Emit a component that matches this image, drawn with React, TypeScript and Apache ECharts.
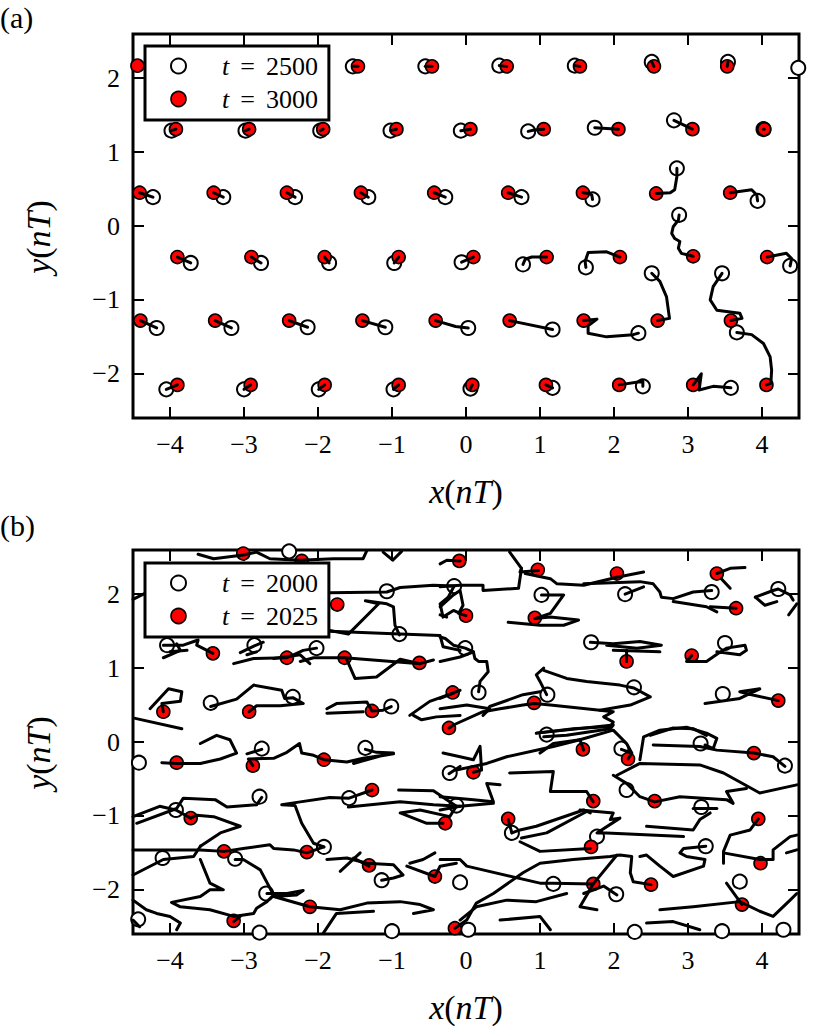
import React, { useEffect, useRef } from 'react';
import * as echarts from 'echarts';

const FONT = '"Liberation Serif", "Times New Roman", serif';

// axes
const xTicks = [-4, -3, -2, -1, 0, 1, 2, 3, 4];
const yTicks = [-2, -1, 0, 1, 2];
const xMin = -4.5;
const xMax = 4.5;
const yMin = -2.598;
const yMax = 2.598;

// legend names
const aNames = ['t = 2500', 't = 3000'];
const bNames = ['t = 2000', 't = 2025'];

// ---------- panel (a) ----------
// positions at t = 2500 (open circles)
const aOpen: number[][] = [
  [4.49, 2.14], [-3.5, 2.16], [-2.5, 2.16], [-1.53, 2.16], [-0.55, 2.16], [0.45, 2.17], [1.47, 2.17], [2.51, 2.22], [3.54, 2.22],
  [-3.98, 1.29], [-2.98, 1.29], [-1.97, 1.29], [-1.02, 1.29], [-0.07, 1.29], [0.84, 1.28], [1.74, 1.33], [2.81, 1.43], [4.02, 1.31],
  [-4.23, 0.39], [-3.28, 0.39], [-2.31, 0.39], [-1.32, 0.39], [-0.28, 0.39], [0.75, 0.39], [1.71, 0.36], [2.85, 0.78], [3.94, 0.34],
  [-3.72, -0.5], [-2.77, -0.5], [-1.85, -0.5], [-0.97, -0.5], [-0.06, -0.49], [0.77, -0.52], [1.62, -0.56], [2.88, 0.15], [4.38, -0.54],
  [-4.18, -1.38], [-3.17, -1.38], [-2.14, -1.37], [-1.09, -1.37], [0.03, -1.38], [1.17, -1.4], [2.33, -1.45], [2.51, -0.64], [3.46, -0.64], [3.66, -1.44],
  [-4.05, -2.21], [-3.0, -2.21], [-1.99, -2.21], [-0.98, -2.21], [0.06, -2.2], [1.17, -2.19], [2.39, -2.17], [3.58, -2.19],
];
// positions at t = 3000 (red dots), same order
const aRed: number[][] = [
  [-4.44, 2.17], [-3.45, 2.17], [-2.45, 2.17], [-1.46, 2.16], [-0.46, 2.16], [0.55, 2.16], [1.54, 2.16], [2.54, 2.16], [3.53, 2.16],
  [-3.92, 1.31], [-2.93, 1.31], [-1.93, 1.31], [-0.94, 1.31], [0.06, 1.31], [1.05, 1.31], [2.06, 1.31], [3.06, 1.31], [4.03, 1.31],
  [-4.41, 0.45], [-3.41, 0.45], [-2.42, 0.45], [-1.42, 0.45], [-0.43, 0.45], [0.57, 0.45], [1.58, 0.45], [2.57, 0.44], [3.57, 0.45],
  [-3.9, -0.42], [-2.9, -0.42], [-1.91, -0.42], [-0.91, -0.42], [0.1, -0.42], [1.09, -0.42], [2.08, -0.42], [3.07, -0.41], [4.07, -0.42],
  [-4.4, -1.28], [-3.39, -1.28], [-2.39, -1.28], [-1.4, -1.28], [-0.41, -1.28], [0.59, -1.28], [1.59, -1.28], [2.59, -1.28], [3.58, -1.28], [4.06, -2.15],
  [-3.9, -2.15], [-2.91, -2.15], [-1.91, -2.15], [-0.91, -2.15], [0.085, -2.15], [1.08, -2.15], [2.07, -2.15], [3.07, -2.15],
];
// intermediate trajectory points (null = path wraps through the boundary)
const aMid: (number[][] | null)[] = [
  null, [], [], [], [], [], [], [], [],
  [], [], [], [], [], [[0.92, 1.3]], [], [], [],
  [], [], [], [], [], [], [[1.7, 0.42], [1.66, 0.44]], [[2.85, 0.67], [2.82, 0.49], [2.76, 0.45]], [[3.93, 0.42], [3.86, 0.49]],
  [], [], [], [], [], [[0.8, -0.45], [0.89, -0.42]], [[1.61, -0.48], [1.65, -0.36], [1.9, -0.35]],
  [[2.87, 0.08], [2.8, -0.01], [2.78, -0.1], [2.82, -0.17], [2.89, -0.21], [2.87, -0.3], [2.91, -0.37]], [[4.4, -0.44], [4.33, -0.37]],
  [], [], [], [], [[-0.14, -1.36]], [], [[2.26, -1.47], [1.9, -1.5], [1.65, -1.45], [1.65, -1.35], [1.77, -1.26]],
  [[2.62, -0.75], [2.71, -0.96], [2.75, -1.25]], [[3.34, -0.82], [3.3, -1.0], [3.39, -1.14], [3.7, -1.18], [3.73, -1.25]],
  [[3.86, -1.47], [4.02, -1.59], [4.11, -1.77], [4.13, -1.95], [4.12, -2.13]],
  [], [], [], [], [], [], [[2.39, -2.1]], [[3.34, -2.17], [3.15, -2.22], [3.18, -2.0]],
];

// ---------- panel (b) ----------
const bOpen: number[][] = [
  [-2.39, 2.58], [-1.07, 2.04], [-0.16, 2.11], [-4.04, 1.31], [-2.86, 1.31], [-2.02, 1.27], [-0.9, 1.46], [-3.45, 0.53], [-2.34, 0.61],
  [-1.01, 0.48], [1.02, 1.99], [2.15, 2.0], [3.32, 2.03], [4.22, 2.07], [-0.01, 1.27], [1.69, 1.35], [3.5, 1.34], [0.17, 0.67],
  [1.1, 0.64], [2.27, 0.74], [3.47, 0.65], [-4.42, -0.28], [-2.76, -0.09], [-1.36, -0.08], [-0.22, -0.42], [-2.79, -0.74], [-1.58, -0.76],
  [-3.92, -0.92], [-0.13, -0.86], [-4.1, -1.57], [-3.12, -1.58], [-1.92, -1.42], [-1.14, -1.87], [-0.08, -1.9], [-2.7, -2.05], [-4.43, -2.4],
  [-2.79, -2.58], [-1.0, -2.56], [1.09, 0.1], [2.1, -0.09], [3.17, -0.02], [4.31, -0.32], [2.17, -0.65], [3.18, -0.88], [0.62, -1.23],
  [1.77, -1.28], [3.24, -1.41], [1.18, -1.92], [2.03, -2.06], [3.7, -1.89], [0.03, -2.54], [2.28, -2.57], [3.46, -2.56], [4.29, -2.54],
];
const bRed: number[][] = [
  [-3.01, 2.55], [-2.22, 2.45], [-1.74, 1.86], [-3.42, 1.2], [-2.42, 1.14], [-1.64, 1.14], [-0.63, 1.07], [-4.09, 0.41], [-2.93, 0.41],
  [-1.27, 0.42], [-0.18, 0.67], [-0.09, 2.45], [0.97, 2.33], [2.04, 2.28], [3.39, 2.28], [0.0, 1.71], [0.93, 1.68], [3.65, 1.81],
  [2.17, 1.09], [3.05, 1.17], [0.92, 0.53], [4.22, 0.56], [-0.23, 0.19], [-3.91, -0.28], [-2.88, -0.32], [-1.92, -0.24], [-1.27, -0.65],
  [-3.72, -1.03], [-3.27, -1.48], [-2.15, -1.49], [-1.31, -1.67], [-0.42, -1.82], [-3.14, -2.42], [-2.11, -2.23], [-0.28, -1.1], [-0.15, -2.52],
  [1.58, -0.1], [2.19, -0.23], [3.89, -0.15], [0.1, -0.41], [1.72, -0.8], [2.55, -0.8], [0.57, -1.04], [3.95, -1.04], [1.69, -1.42],
  [3.98, -1.64], [1.72, -1.92], [2.5, -1.93], [3.73, -2.2],
];
const bTracks: number[][][] = [
  [[-3.62, 2.54], [-3.41, 2.48], [-3.01, 2.53], [-2.83, 2.57], [-2.65, 2.48], [-2.24, 2.46], [-2.02, 2.47], [-1.79, 2.48], [-1.39, 2.48], [-1.34, 2.59]],
  [[-1.12, 2.57], [-0.99, 2.46], [-0.87, 2.58]],
  [[-4.5, 1.93], [-4.32, 2.02]],
  [[-1.84, 2.02], [-1.07, 2.03], [-0.89, 2.09], [-0.44, 2.12], [-0.16, 2.11], [-0.24, 1.96], [-0.35, 1.87], [-0.31, 1.69], [-0.17, 1.78], [-0.08, 1.74]],
  [[-1.84, 1.51], [-1.59, 1.46], [-1.18, 1.87], [-1.36, 1.91], [-1.07, 1.87], [-0.98, 1.83], [-0.96, 1.58], [-0.9, 1.45]],
  [[-1.84, 1.5], [-0.89, 1.46], [-0.35, 1.44], [-0.31, 1.29], [-0.08, 1.24]],
  [[-2.24, 1.09], [-2.06, 1.14], [-1.64, 1.14], [-0.62, 1.06]],
  [[-1.61, 1.11], [-1.5, 0.86], [-1.21, 0.88], [-0.89, 1.12], [-0.62, 1.06], [-0.44, 1.11]],
  [[-3.14, 1.06], [-2.87, 1.13], [-2.42, 1.14], [-2.2, 1.24], [-2.02, 1.27]],
  [[-2.6, 1.13], [-2.24, 1.18], [-2.11, 1.06]],
  [[-3.05, 1.21], [-2.86, 1.3], [-2.74, 1.35]],
  [[-2.96, 1.18], [-2.83, 1.22]],
  [[-4.09, 1.31], [-3.82, 1.31], [-3.62, 1.38], [-3.64, 1.31], [-3.42, 1.2]],
  [[-4.09, 1.14], [-3.86, 1.24], [-3.91, 1.33]],
  [[-4.0, 1.22], [-3.77, 1.24]],
  [[-4.27, 0.45], [-4.02, 0.72], [-3.84, 0.68], [-3.86, 0.55], [-4.11, 0.52], [-4.09, 0.41]],
  [[-4.47, 0.32], [-3.84, 0.18]],
  [[-3.45, 0.48], [-3.1, 0.58], [-2.87, 0.77], [-2.49, 0.7], [-2.45, 0.59], [-2.34, 0.6], [-2.2, 0.52], [-2.51, 0.49], [-2.83, 0.49], [-2.93, 0.41]],
  [[-1.88, 0.45], [-1.75, 0.52], [-1.34, 0.54], [-1.27, 0.42], [-1.12, 0.43], [-1.01, 0.48]],
  [[-1.88, 0.39], [-1.39, 0.41]],
  [[-0.76, 0.36], [-0.49, 0.55], [-0.18, 0.66], [-0.08, 0.7]],
  [[-0.71, 0.36], [-0.6, 0.3], [-0.4, 0.34], [-0.08, 0.36]],
  [[-0.35, 2.41], [-0.26, 2.46], [-0.08, 2.45]],
  [[0.59, 2.57], [0.75, 2.35], [0.73, 2.3], [0.98, 2.32]],
  [[0.75, 2.35], [0.71, 2.08], [0.23, 2.05], [0.23, 2.12], [-0.08, 2.12], [-0.35, 2.1]],
  [[0.8, 2.28], [1.14, 2.21], [1.23, 2.14], [1.59, 2.12], [2.04, 2.23], [2.4, 2.3]],
  [[1.59, 2.14], [2.35, 2.17], [2.53, 2.14], [2.62, 2.03], [2.64, 1.96], [2.8, 1.94], [3.07, 2.03], [3.32, 2.05]],
  [[2.8, 1.9], [3.25, 1.83], [3.39, 1.76]],
  [[3.3, 1.83], [3.65, 1.81]],
  [[3.39, 2.28], [3.57, 2.35], [3.77, 2.36]],
  [[3.45, 2.21], [3.57, 2.08]],
  [[3.91, 1.96], [4.15, 2.05], [4.22, 2.07], [4.38, 1.99], [4.42, 1.92]],
  [[3.91, 1.96], [4.04, 1.85], [4.2, 1.9]],
  [[4.36, 1.72], [4.47, 1.87]],
  [[1.02, 1.99], [1.32, 1.99], [1.14, 1.74], [0.93, 1.67]],
  [[0.57, 1.62], [1.0, 1.58], [1.32, 1.58], [1.52, 1.65], [1.14, 1.69], [0.93, 1.67]],
  [[2.15, 2.0], [2.4, 2.1]],
  [[-0.35, 1.83], [-0.17, 1.99], [-0.08, 2.05], [-0.04, 1.85], [-0.1, 1.74], [0.0, 1.71]],
  [[-0.35, 1.72], [-0.26, 1.69]],
  [[-0.35, 1.42], [-0.28, 1.4], [-0.17, 1.31], [-0.01, 1.27], [0.1, 1.22], [0.12, 1.13], [0.17, 1.09], [0.28, 1.09], [0.3, 0.95], [0.19, 0.82], [0.17, 0.68]],
  [[-0.35, 1.09], [-0.08, 1.15], [0.1, 1.22]],
  [[1.68, 1.35], [1.99, 1.33], [2.35, 1.36], [2.64, 1.31], [2.31, 1.27], [1.9, 1.31]],
  [[1.99, 1.24], [2.62, 1.22]],
  [[2.17, 1.24], [2.17, 1.09]],
  [[3.05, 1.17], [2.98, 1.09], [3.25, 1.09], [3.41, 1.2], [3.52, 1.27], [3.77, 1.31], [3.79, 1.24], [3.7, 1.18], [3.39, 1.22]],
  [[1.05, 1.0], [0.95, 0.91], [1.0, 0.82], [1.09, 0.64]],
  [[1.05, 0.97], [1.36, 0.86], [1.63, 0.82], [2.08, 0.77], [2.27, 0.73], [2.49, 0.61], [2.22, 0.5], [1.81, 0.43], [1.14, 0.5], [0.92, 0.52], [0.77, 0.5], [0.46, 0.45], [0.23, 0.41], [-0.17, 0.23], [-0.23, 0.19]],
  [[-0.35, 0.45], [0.01, 0.5], [0.32, 0.45], [0.23, 0.36], [0.32, 0.48], [0.77, 0.64], [1.0, 0.68]],
  [[-0.35, 0.59], [-0.17, 0.66]],
  [[1.81, 0.43], [1.99, 0.41], [1.86, 0.34], [1.99, 0.27], [1.95, 0.21], [1.45, 0.18], [0.95, 0.12]],
  [[2.49, 0.09], [2.8, 0.19], [3.07, 0.18], [3.25, 0.09]],
  [[3.23, 0.52], [3.7, 0.59], [3.97, 0.72], [3.7, 0.68], [3.86, 0.64], [4.22, 0.56]],
  [[-4.11, -0.28], [-3.91, -0.29], [-3.59, -0.29], [-3.32, -0.23], [-3.1, -0.15], [-3.19, 0.03], [-3.37, 0.09], [-3.59, -0.02]],
  [[-2.88, -0.32], [-2.94, -0.23], [-2.6, -0.22], [-2.42, -0.14], [-2.25, -0.02], [-2.22, -0.15], [-2.06, -0.18], [-1.92, -0.24], [-1.61, -0.27], [-1.39, -0.22], [-0.98, -0.16], [-1.16, -0.19], [-1.52, -0.29]],
  [[-2.96, -0.16], [-2.76, -0.1]],
  [[-1.36, -0.1], [-1.21, -0.14], [-0.98, -0.15]],
  [[-0.23, -0.43], [-0.08, -0.33]],
  [[-4.5, -1.01], [-4.14, -0.87], [-3.92, -0.92], [-3.72, -1.03]],
  [[-4.45, -1.1], [-3.91, -0.9], [-3.82, -0.76], [-3.39, -0.78], [-3.23, -0.88], [-2.83, -0.85], [-2.76, -0.75]],
  [[-3.72, -1.03], [-3.64, -0.99], [-3.41, -1.01], [-3.05, -1.14], [-3.32, -1.23], [-3.59, -1.41]],
  [[-1.27, -0.65], [-1.58, -0.76], [-1.84, -0.75], [-2.24, -0.81], [-2.49, -0.85], [-2.31, -0.86], [-2.22, -1.1], [-2.06, -1.37], [-1.92, -1.42]],
  [[-1.92, -1.42], [-2.15, -1.5], [-2.33, -1.46], [-2.6, -1.44], [-2.65, -1.39], [-3.01, -1.44], [-3.27, -1.48]],
  [[-1.59, -0.88], [-0.89, -0.81], [-0.44, -0.85], [-0.08, -0.87]],
  [[-0.91, -0.65], [-0.44, -0.66], [-0.13, -0.87], [-0.22, -1.01], [-0.62, -0.92], [-0.89, -0.96], [-0.53, -1.1], [-0.31, -1.1]],
  [[-4.5, -1.46], [-3.59, -1.46], [-3.27, -1.48]],
  [[-4.5, -1.8], [-4.09, -1.59], [-3.68, -1.55], [-3.59, -1.41]],
  [[-3.59, -1.59], [-3.46, -1.91], [-3.28, -2.0], [-3.46, -2.0], [-3.59, -2.09], [-3.98, -2.17], [-3.86, -2.23], [-3.46, -2.27], [-3.14, -2.36], [-2.87, -2.32], [-2.83, -2.25], [-2.69, -2.16], [-2.6, -2.07], [-2.78, -1.73], [-3.01, -1.59], [-3.12, -1.59]],
  [[-2.69, -2.05], [-2.42, -2.05], [-2.2, -2.01], [-2.29, -2.07], [-2.6, -2.09], [-2.11, -2.23], [-1.7, -2.27], [-1.34, -2.18], [-0.89, -2.16], [-0.62, -2.2], [-0.44, -2.27], [-0.71, -2.32]],
  [[-1.88, -1.59], [-1.61, -1.57], [-1.34, -1.64], [-0.98, -1.66], [-0.85, -1.8], [-0.98, -1.84], [-1.14, -1.87]],
  [[-1.7, -1.75], [-1.43, -1.5]],
  [[-1.52, -1.57], [-1.31, -1.68]],
  [[-0.76, -1.64], [-0.58, -1.59], [-0.42, -1.5]],
  [[-0.8, -1.68], [-0.42, -1.82], [-0.35, -1.68], [-0.13, -1.64]],
  [[-4.5, -2.14], [-4.32, -2.27], [-4.18, -2.32], [-4.0, -2.36], [-3.86, -2.45], [-3.91, -2.54]],
  [[-4.5, -2.41], [-4.41, -2.5]],
  [[-3.14, -2.43], [-3.05, -2.36]],
  [[-1.93, -2.59], [-1.75, -2.32], [-1.25, -2.29]],
  [[0.95, 0.12], [1.99, 0.23], [1.95, 0.18], [1.36, 0.09], [1.05, 0.07]],
  [[1.0, -0.15], [1.18, -0.02], [1.54, 0.03], [1.99, 0.16], [2.17, -0.02], [2.24, -0.15], [2.19, -0.23]],
  [[1.59, -0.11], [1.54, 0.03]],
  [[2.1, -0.1], [2.24, -0.15]],
  [[2.35, -0.24], [2.4, 0.07], [2.62, 0.16], [2.98, 0.2], [3.25, 0.12], [3.39, 0.05], [3.34, -0.09], [3.23, -0.04]],
  [[2.53, -0.04], [3.16, -0.06], [3.39, -0.11], [3.89, -0.15], [4.15, -0.2], [4.31, -0.33]],
  [[-0.31, -0.15], [-0.08, -0.2], [0.1, -0.24], [0.19, -0.06], [0.21, -0.38], [0.1, -0.41]],
  [[-0.13, -0.38], [0.1, -0.33], [0.28, -0.29], [0.55, -0.2], [1.18, -0.06], [1.54, 0.03]],
  [[0.59, -0.42], [1.18, -0.4], [1.14, -0.67], [1.63, -0.67], [1.72, -0.81]],
  [[2.04, -0.45], [2.35, -0.29], [3.16, -0.31], [3.48, -0.42], [3.97, -0.69], [4.47, -0.58]],
  [[1.99, -0.45], [2.17, -0.56], [2.35, -0.74], [2.55, -0.81], [2.89, -0.74], [3.52, -0.78], [3.61, -0.83], [3.52, -0.67], [3.79, -0.63]],
  [[3.07, -0.9], [3.39, -0.9]],
  [[-0.35, -0.74], [0.1, -0.78], [0.37, -0.81], [0.28, -0.56], [0.46, -0.58]],
  [[-0.35, -0.92], [-0.08, -0.87], [0.37, -0.83]],
  [[0.62, -1.23], [0.73, -1.19], [0.95, -1.14], [1.59, -0.92], [1.68, -0.96]],
  [[0.75, -1.3], [1.09, -1.23], [1.63, -0.94]],
  [[0.57, -1.05], [0.62, -1.23]],
  [[0.73, -1.35], [1.0, -1.48], [1.68, -1.44]],
  [[1.54, -0.92], [1.99, -0.96], [1.95, -1.05], [2.08, -1.03], [1.77, -1.23], [1.9, -1.23], [2.94, -1.28]],
  [[2.44, -1.14], [3.07, -1.19], [3.16, -1.05], [3.3, -0.96]],
  [[3.95, -1.04], [3.84, -1.19], [3.57, -1.26], [3.48, -1.48], [3.48, -1.64]],
  [[3.48, -1.5], [3.97, -1.59], [4.15, -1.59], [4.15, -1.46], [4.38, -1.28], [4.47, -1.26]],
  [[4.33, -1.5], [4.47, -1.46]],
  [[3.24, -1.41], [2.94, -1.44], [2.89, -1.5], [2.98, -1.55], [3.23, -1.59], [3.21, -1.68], [2.8, -1.82], [2.62, -1.68], [2.44, -1.53], [2.35, -1.55]],
  [[-0.35, -1.59], [-0.08, -1.59], [0.01, -1.68], [1.0, -1.91], [1.18, -1.91], [1.72, -1.92]],
  [[2.04, -1.53], [1.72, -1.92], [1.54, -2.23], [1.77, -2.27]],
  [[1.59, -2.05], [1.86, -1.95], [2.04, -2.07]],
  [[2.5, -1.93], [2.26, -1.89], [2.22, -1.77], [2.24, -1.55], [2.08, -1.53], [1.95, -1.55], [1.45, -1.59], [1.0, -1.64], [0.77, -1.77], [0.37, -2.05], [0.14, -2.18], [0.01, -2.41], [-0.15, -2.52]],
  [[2.62, -2.27], [3.07, -2.23], [3.7, -2.16], [3.97, -2.29], [4.15, -2.36], [4.38, -2.14], [4.47, -2.05]],
  [[2.44, -2.45], [2.8, -2.43], [3.16, -2.54]],
  [[0.46, -2.41], [1.0, -2.36], [1.14, -2.54]],
  [[-0.08, -2.41], [0.14, -2.23], [0.55, -2.14], [0.95, -2.16], [1.36, -2.05]],
  [[3.52, -1.91], [3.73, -2.2]],
];

const fmt = (v: number) => (v < 0 ? '\u2212' + Math.abs(v) : String(v));

const titleRich = {
  i: { fontStyle: 'italic', fontSize: 34, fontFamily: FONT, color: '#000' },
  r: { fontSize: 34, fontFamily: FONT, color: '#000' },
};

function xAxisOf(gridIndex: number, position: string, withLabel: boolean) {
  return {
    type: 'value',
    gridIndex,
    position,
    min: xMin,
    max: xMax,
    splitLine: { show: false },
    axisLine: { show: false, onZero: false },
    axisTick: { show: true, inside: true, length: 11, customValues: xTicks, lineStyle: { color: '#000', width: 2 } },
    axisLabel: withLabel
      ? { show: true, customValues: xTicks, formatter: fmt, margin: 13, color: '#000', fontSize: 26, fontFamily: FONT }
      : { show: false },
    name: withLabel ? '{i|x}{r|(}{i|nT}{r|)}' : '',
    nameLocation: 'middle',
    nameGap: 56,
    nameTextStyle: { fontSize: 34, fontFamily: FONT, color: '#000', rich: titleRich },
  };
}

function yAxisOf(gridIndex: number, position: string, withLabel: boolean) {
  return {
    type: 'value',
    gridIndex,
    position,
    min: yMin,
    max: yMax,
    splitLine: { show: false },
    axisLine: { show: false, onZero: false },
    axisTick: { show: true, inside: true, length: 11, customValues: yTicks, lineStyle: { color: '#000', width: 2 } },
    axisLabel: withLabel
      ? { show: true, customValues: yTicks, formatter: fmt, margin: 13, color: '#000', fontSize: 26, fontFamily: FONT }
      : { show: false },
    name: withLabel ? '{i|y}{r|(}{i|nT}{r|)}' : '',
    nameLocation: 'middle',
    nameGap: 78,
    nameTextStyle: { fontSize: 34, fontFamily: FONT, color: '#000', rich: titleRich, padding: [0, 22, 0, 0] },
  };
}

const openStyle = { color: '#ffffff', borderColor: '#000', borderWidth: 2, opacity: 1 };
const redStyle = { color: '#ff0000', borderColor: '#000', borderWidth: 1.6, opacity: 1 };

function legendOf(top: number, names: string[]) {
  const base = { fontSize: 26, fontFamily: FONT, color: '#000', lineHeight: 28 };
  return {
    data: [
      { name: names[0], icon: 'circle', itemStyle: openStyle },
      { name: names[1], icon: 'circle', itemStyle: redStyle },
    ],
    orient: 'vertical',
    left: 145,
    top,
    z: 10,
    padding: [6, 11, 7, 25],
    itemWidth: 15,
    itemHeight: 15,
    itemGap: 5,
    backgroundColor: '#fff',
    borderColor: '#000',
    borderWidth: 3,
    borderRadius: 0,
    selectedMode: false,
    formatter: (name: string) => `{t|t}{e|=}{n|${name.split('= ')[1]}}`,
    textStyle: {
      ...base,
      rich: {
        t: { ...base, fontStyle: 'italic', padding: [0, 0, 0, 31] },
        e: { ...base, padding: [0, 11, 0, 11] },
        n: { ...base },
      },
    },
  };
}

const lineStyle = { color: '#000', width: 3, opacity: 1, join: 'round', cap: 'round' };

export default function App() {
  const ref = useRef<HTMLDivElement>(null);
  useEffect(() => {
    if (!ref.current) return;
    const chart = echarts.init(ref.current, null, { renderer: 'svg' });

    const aTracks: number[][][] = [];
    aOpen.forEach((o, i) => {
      const mid = aMid[i];
      if (mid) aTracks.push([o, ...mid, aRed[i]]);
    });

    const gridBase = { left: 133, width: 666, height: 384, show: true, borderColor: '#000', borderWidth: 3, backgroundColor: 'transparent' };

    chart.setOption({
      animation: false,
      backgroundColor: '#fff',
      grid: [
        { ...gridBase, top: 34 },
        { ...gridBase, top: 550 },
      ],
      xAxis: [xAxisOf(0, 'bottom', true), xAxisOf(0, 'top', false), xAxisOf(1, 'bottom', true), xAxisOf(1, 'top', false)],
      yAxis: [yAxisOf(0, 'left', true), yAxisOf(0, 'right', false), yAxisOf(1, 'left', true), yAxisOf(1, 'right', false)],
      legend: [legendOf(46, aNames), legendOf(563, bNames)],
      graphic: [
        { type: 'text', x: 0, y: 17, style: { text: '(a)', fontSize: 30, fontFamily: FONT, fill: '#000', verticalAlign: 'middle', align: 'left' } },
        { type: 'text', x: 0, y: 525, style: { text: '(b)', fontSize: 30, fontFamily: FONT, fill: '#000', verticalAlign: 'middle', align: 'left' } },
      ],
      series: [
        { name: aNames[0], type: 'scatter', xAxisIndex: 0, yAxisIndex: 0, data: aOpen, symbol: 'circle', symbolSize: 14, itemStyle: openStyle, z: 1, silent: true },
        { name: aNames[1], type: 'scatter', xAxisIndex: 0, yAxisIndex: 0, data: aRed, symbol: 'circle', symbolSize: 13, itemStyle: redStyle, z: 2, silent: true },
        { type: 'lines', coordinateSystem: 'cartesian2d', xAxisIndex: 0, yAxisIndex: 0, polyline: true, silent: true, z: 3, clip: true, lineStyle, data: aTracks.map((c) => ({ coords: c })) },
        { name: bNames[0], type: 'scatter', xAxisIndex: 2, yAxisIndex: 2, data: bOpen, symbol: 'circle', symbolSize: 14, itemStyle: openStyle, z: 1, silent: true },
        { name: bNames[1], type: 'scatter', xAxisIndex: 2, yAxisIndex: 2, data: bRed, symbol: 'circle', symbolSize: 13, itemStyle: redStyle, z: 2, silent: true },
        { type: 'lines', coordinateSystem: 'cartesian2d', xAxisIndex: 2, yAxisIndex: 2, polyline: true, silent: true, z: 3, clip: true, lineStyle, data: bTracks.map((c) => ({ coords: c })) },
      ],
    });
    return () => chart.dispose();
  }, []);
  return <div ref={ref} style={{ position: 'fixed', left: 0, top: 0, width: 830, height: 1030, background: '#fff' }} />;
}
